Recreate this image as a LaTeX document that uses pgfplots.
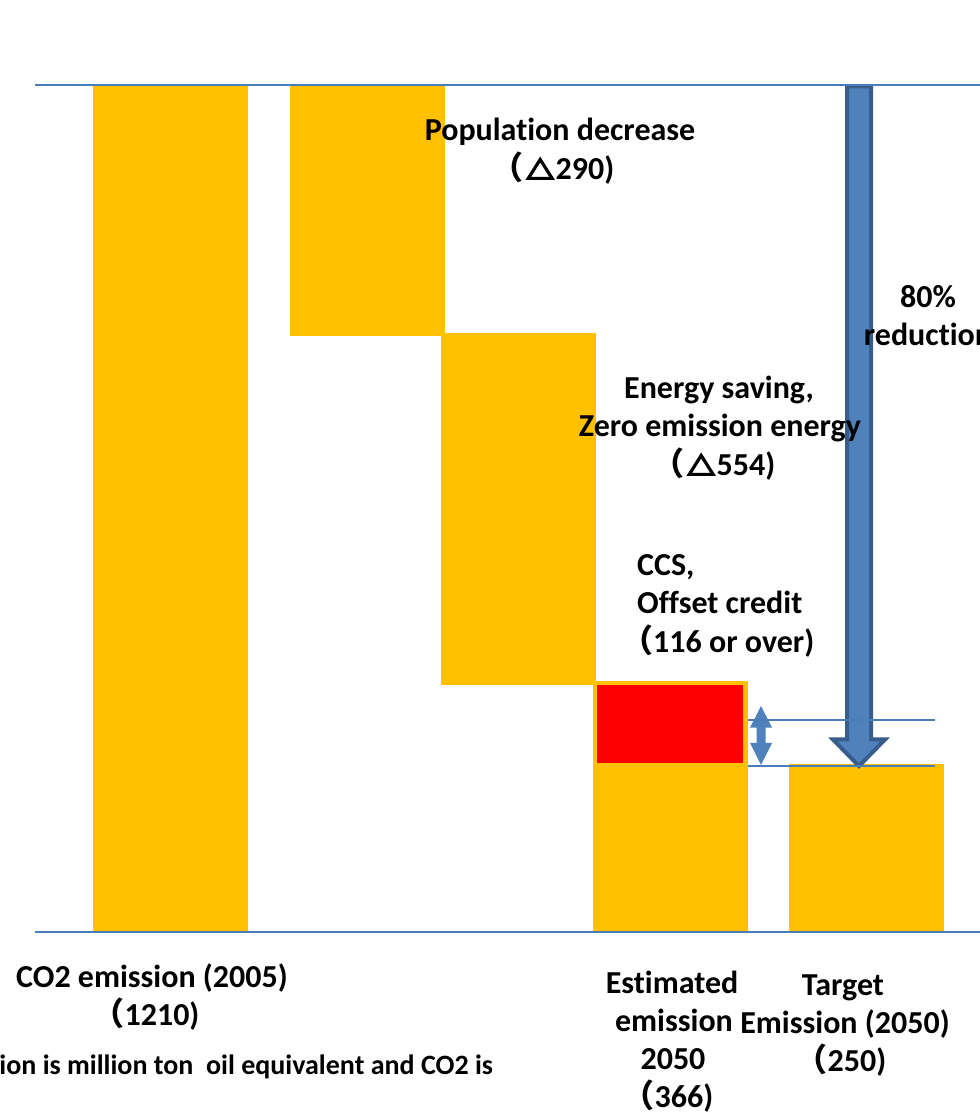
\documentclass[border=0pt]{standalone}
\usepackage{pgfplots}
\pgfplotsset{compat=1.18}
\usepackage{fontspec}
\setmainfont{Carlito}[Ligatures=NoCommon]
\newfontfamily\cjk{Noto Sans CJK JP}
\definecolor{gold}{HTML}{FFC000}
\definecolor{lineblue}{HTML}{4A7EBB}
\definecolor{arrfill}{HTML}{4F81BD}
\definecolor{arredge}{HTML}{385D8A}
\newcommand{\lbl}[3]{\node[anchor=base, inner sep=0pt, font=\fontsize{32}{38}\selectfont\bfseries] at (#1,{1104-#2}) {#3};}
\newcommand{\lbll}[3]{\node[anchor=base west, inner sep=0pt, font=\fontsize{32}{38}\selectfont\bfseries] at (#1,{1104-#2}) {#3};}
\newcommand{\fw}{{\cjk\bfseries （}}
\newcommand{\tri}{\kern3pt\tikz[baseline=0pt]{\draw[line width=3.2pt, line join=miter] (1.6pt,1.6pt)--(25.4pt,1.6pt)--(13.5pt,20.5pt)--cycle;}\kern2pt}
\begin{document}
\begin{tikzpicture}[x=1pt,y=1pt]
\useasboundingbox (0,0) rectangle (980,1114);
\clip (0,0) rectangle (980,1114);
\begin{axis}[at={(0pt,182pt)}, anchor=south west, scale only axis,
  width=980pt, height=847pt, xmin=0, xmax=980, ymin=0, ymax=1210,
  axis lines=none, clip=false]
% bars (x0,x1 in px-units, y in emission units)
\addplot[fill=gold, draw=none] coordinates {(93,0)(248,0)(248,1210)(93,1210)} --cycle;
\addplot[fill=gold, draw=none] coordinates {(290,851)(445,851)(445,1210)(290,1210)} --cycle;
\addplot[fill=gold, draw=none] coordinates {(441,353)(596,353)(596,856)(441,856)} --cycle;
\addplot[fill=gold, draw=none] coordinates {(593,0)(748,0)(748,358)(593,358)} --cycle;
\addplot[fill=red, draw=none] coordinates {(597,241)(743,241)(743,353)(597,353)} --cycle;
\addplot[fill=gold, draw=none] coordinates {(789,0)(944,0)(944,240)(789,240)} --cycle;
% big arrow (80% reduction)
\addplot[fill=arrfill, draw=arredge, line width=4pt] coordinates
  {(847,1208)(871,1208)(871,275)(885,275)(859,237)(833,275)(847,275)} --cycle;
% double arrow
\addplot[fill=arrfill, draw=none] coordinates
  {(761,323)(772,292)(765.5,292)(765.5,270)(772,270)(761,238.6)(750,270)(756.5,270)(756.5,292)(750,292)} --cycle;
% reference lines
\addplot[lineblue, line width=2pt] coordinates {(35,1210)(980,1210)};
\addplot[lineblue, line width=2pt] coordinates {(35,0)(980,0)};
\addplot[lineblue, line width=2pt] coordinates {(748,303)(935,303)};
\addplot[lineblue, line width=2pt] coordinates {(748,237)(935,237)};
\end{axis}
\lbl{560}{131}{Population decrease}
\lbl{553}{170}{\fw\tri 290)}
\lbl{928}{298}{80\%}
\lbl{928}{336}{reduction}
\lbl{719}{389}{Energy saving,}
\lbl{720}{427}{Zero emission energy}
\lbl{714}{466}{\fw\tri 554)}
\lbll{637}{566}{CCS,}
\lbll{637}{604}{Offset credit}
\lbll{621}{643}{\fw116 or over)}
\lbl{152}{978}{CO2 emission (2005)}
\lbl{146}{1016}{\fw1210)}
\lbl{672}{984}{Estimated}
\lbl{674}{1022}{emission}
\lbl{673}{1060}{2050}
\lbl{668}{1098}{\fw366)}
\lbl{843}{986}{Target}
\lbl{845}{1024}{Emission (2050)}
\lbl{841}{1062}{\fw250)}
\node[anchor=base east, inner sep=0pt, font=\fontsize{28}{32}\selectfont\bfseries] at (493,{1114-1075}) {Unit of population is million ton\ \ oil equivalent and CO2 is};
\end{tikzpicture}
\end{document}
